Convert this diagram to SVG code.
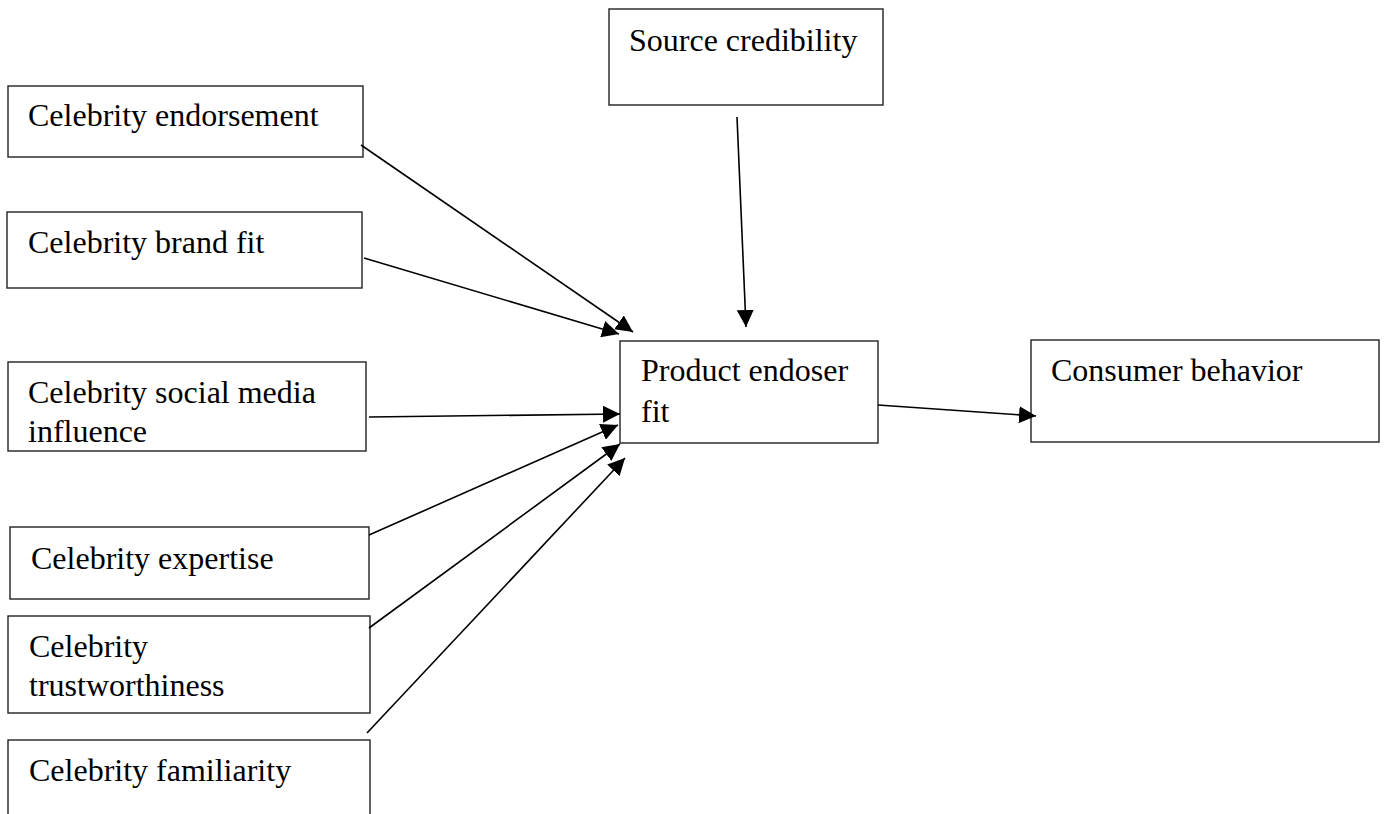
<svg xmlns="http://www.w3.org/2000/svg" width="1385" height="814" viewBox="0 0 1385 814">
<style>
.box{fill:#fff;stroke:#222;stroke-width:1.4}
.lbl{font-family:"Liberation Serif","Times New Roman",serif;font-size:32px;fill:#000}
.con{stroke:#000;stroke-width:1.6;fill:none;marker-end:url(#ah)}
</style>
<defs>
<marker id="ah" markerUnits="userSpaceOnUse" viewBox="0 0 17 17" refX="17" refY="8.5" markerWidth="17" markerHeight="17" orient="auto">
<path d="M0,0 L17,8.5 L0,17 Z" fill="#000"/>
</marker>
</defs>
<rect width="1385" height="814" fill="#fff"/>
<g id="n-source">
<rect class="box" x="609" y="9" width="274" height="96"/>
<text class="lbl" x="629" y="51">Source credibility</text>
</g>
<g id="n-endorsement">
<rect class="box" x="8" y="86" width="355" height="71"/>
<text class="lbl" x="28" y="126">Celebrity endorsement</text>
</g>
<g id="n-brandfit">
<rect class="box" x="7" y="212" width="355" height="76"/>
<text class="lbl" x="28" y="253">Celebrity brand fit</text>
</g>
<g id="n-social">
<rect class="box" x="8" y="362" width="358" height="89"/>
<text class="lbl" x="28" y="403">Celebrity social media</text>
<text class="lbl" x="28" y="442">influence</text>
</g>
<g id="n-expertise">
<rect class="box" x="10" y="527" width="359" height="72"/>
<text class="lbl" x="31" y="569">Celebrity expertise</text>
</g>
<g id="n-trust">
<rect class="box" x="8" y="616" width="362" height="97"/>
<text class="lbl" x="29" y="657">Celebrity</text>
<text class="lbl" x="29" y="696">trustworthiness</text>
</g>
<g id="n-familiarity">
<rect class="box" x="8" y="740" width="362" height="100"/>
<text class="lbl" x="29" y="781">Celebrity familiarity</text>
</g>
<g id="n-product">
<rect class="box" x="620" y="341" width="258" height="102"/>
<text class="lbl" x="641" y="381">Product endoser</text>
<text class="lbl" x="641" y="422">fit</text>
</g>
<g id="n-consumer">
<rect class="box" x="1031" y="340" width="348" height="102"/>
<text class="lbl" x="1051" y="381">Consumer behavior</text>
</g>
<g id="connectors">
<line class="con" x1="737" y1="117" x2="746" y2="327"/>
<line class="con" x1="361" y1="145" x2="633" y2="332"/>
<line class="con" x1="364" y1="258" x2="619" y2="334"/>
<line class="con" x1="369" y1="417" x2="620" y2="414"/>
<line class="con" x1="369" y1="535" x2="618" y2="425"/>
<line class="con" x1="369" y1="628" x2="620" y2="444"/>
<line class="con" x1="367" y1="733" x2="625" y2="458"/>
<line class="con" x1="878" y1="405" x2="1036" y2="416"/>
</g>
</svg>
